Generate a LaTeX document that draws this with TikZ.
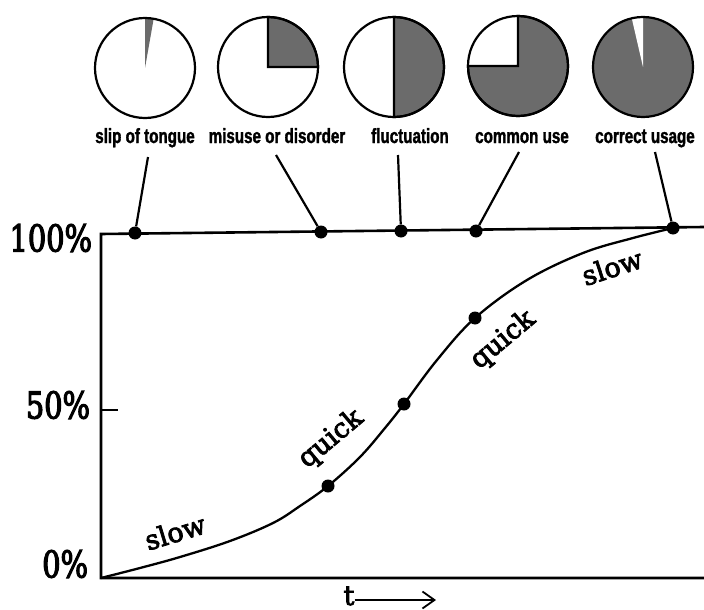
\documentclass[tikz,border=0pt]{standalone}
\usepackage{fontspec}
\usetikzlibrary{arrows.meta}
\newfontfamily\piefont[FakeStretch=0.74,FakeBold=1.5]{Liberation Sans}
\newfontfamily\axisfont[FakeStretch=0.78,FakeBold=3]{DejaVu Serif}
\newfontfamily\curvefont[FakeBold=3]{DejaVu Serif}
\tikzset{
  axisline/.style={line width=2.6pt, line cap=rect},
  pieline/.style={line width=2.2pt},
  piegray/.style={fill=black!58},
  stalk/.style={line width=2.2pt},
  curveline/.style={line width=2.3pt},
  dotmark/.style={circle, fill=black, inner sep=0pt, minimum size=13pt},
  pielabel/.style={font=\piefont\bfseries\fontsize{20.5}{24}\selectfont, anchor=base, inner sep=0.75pt},
  axislabel/.style={font=\axisfont\fontsize{37}{42}\selectfont, anchor=east, inner sep=0.75pt},
  curvelabel/.style={font=\curvefont\fontsize{27}{30}\selectfont, inner sep=0pt},
}
\begin{document}
\begin{tikzpicture}[x=1pt,y=1pt,yscale=-1,xscale=1]
\useasboundingbox (0,0) rectangle (704,610);

%Pie charts
% slip of tongue
\fill[piegray] (145,68) -- ++(-90:50) arc[start angle=-90, end angle=-80, radius=50] -- cycle;
\draw[pieline] (145,68) circle[radius=50];
% misuse or disorder
\filldraw[piegray, pieline] (268,67) -- ++(-90:50) arc[start angle=-90, end angle=0, radius=50] -- cycle;
\draw[pieline] (268,67) circle[radius=50];
% fluctuation
\filldraw[piegray, pieline] (394,67) -- ++(-90:50) arc[start angle=-90, end angle=90, radius=50] -- cycle;
\draw[pieline] (394,67) circle[radius=50];
% common use
\filldraw[piegray, pieline] (518,66) -- ++(-90:50) arc[start angle=-90, end angle=180, radius=50] -- cycle;
\draw[pieline] (518,66) circle[radius=50];
% correct usage
\fill[piegray] (643,67) circle[radius=50];
\fill[white] (643,67) -- ++(-103:50) arc[start angle=-103, end angle=-90, radius=50] -- cycle;
\draw[pieline] (643,67) circle[radius=50];

% Text Node
\node[pielabel] (lslip) at (145,143) {slip of tongue};
\node[pielabel] (lmisuse) at (277,143) {misuse or disorder};
\node[pielabel] (lfluct) at (410,143) {fluctuation};
\node[pielabel] (lcommon) at (522,143) {common use};
\node[pielabel] (lcorrect) at (645,143) {correct usage};

%Axes
\draw[axisline] (704,227) -- (101,234) -- (101,578) -- (704,578);
\draw[axisline] (101,410) -- (117,410);

% Text Node
\node[axislabel] (p100) at (93,238) {100\%};
\node[axislabel] (p50) at (91,405) {50\%};
\node[axislabel] (p0) at (89,564) {0\%};

%Dots on the 100% line
\node[dotmark] (d1) at (135,233) {};
\node[dotmark] (d2) at (321,232) {};
\node[dotmark] (d3) at (401,231) {};
\node[dotmark] (d4) at (476,231) {};
\node[dotmark] (d5) at (673,228) {};

%Straight Lines
\coordinate (s1) at (148,157);
\coordinate (s2) at (276,155);
\coordinate (s3) at (398,155);
\coordinate (s4) at (519,152);
\coordinate (s5) at (655,152);
\draw[stalk] (s1) -- (d1);
\draw[stalk] (s2) -- (d2);
\draw[stalk] (s3) -- (d3);
\draw[stalk] (s4) -- (d4);
\draw[stalk] (s5) -- (d5);

%Curve
\draw[curveline] plot[smooth, tension=0.6] coordinates {(101,578) (140,568) (180,557) (230,541) (273,523) (300,506) (328,486) (360,457) (385,428) (404,404) (437,360) (475,318) (527,280) (583,253) (633,238) (673,228)};
\node[dotmark] (c1) at (328,486) {};
\node[dotmark] (c2) at (404,404) {};
\node[dotmark] (c3) at (475,318) {};

% Text Node
\node[curvelabel, rotate=17] (slow1) at (175,532) {slow};
\node[curvelabel, rotate=40] (quick1) at (331,439) {quick};
\node[curvelabel, rotate=40] (quick2) at (503,340) {quick};
\node[curvelabel, rotate=18] (slow2) at (612,267) {slow};

%Time arrow
\node[curvelabel, anchor=base] (t) at (349,605) {t};
\coordinate (tend) at (436,600);
\draw[line width=1.3pt, -{Straight Barb[length=12pt,width=17pt,line width=1.8pt]}] (t.east |- tend) -- (tend);
\end{tikzpicture}
\end{document}
